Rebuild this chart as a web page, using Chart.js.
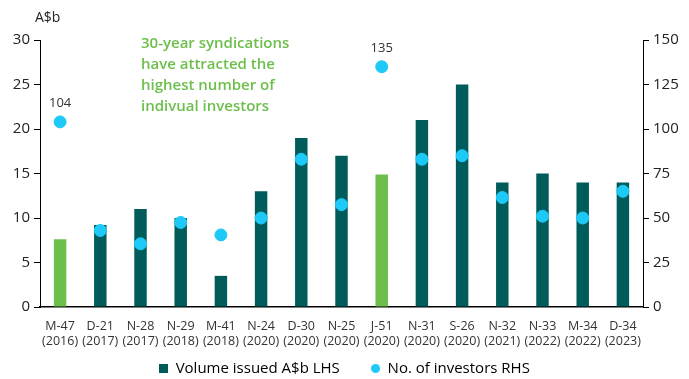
<!DOCTYPE html>
<html>
<head>
<meta charset="utf-8">
<script src="https://cdn.jsdelivr.net/npm/chart.js@4/dist/chart.umd.min.js"></script>
<style>
html,body{margin:0;padding:0;background:#fff;}
#wrap{width:689px;height:379px;position:relative;}
</style>
</head>
<body>
<div id="wrap"><canvas id="c" width="689" height="379"></canvas></div>
<script>
const bonds = ['M-47','D-21','N-28','N-29','M-41','N-24','D-30','N-25','J-51','N-31','S-26','N-32','N-33','M-34','D-34'];
const years = ['(2016)','(2017)','(2017)','(2018)','(2018)','(2020)','(2020)','(2020)','(2020)','(2020)','(2020)','(2021)','(2022)','(2022)','(2023)'];
const volume = [7.6, 9.2, 11, 10, 3.5, 13, 19, 17, 14.9, 21, 25, 14, 15, 14, 14];
const investors = [104, 43, 35.5, 47.5, 40.5, 50, 83, 57.5, 135, 83, 85, 61.5, 51, 50, 65];
const thirtyYear = ['M-47','J-51'];
const labelled = ['M-47','J-51'];
const leftTicks = [0,5,10,15,20,25,30];
const rightTicks = [0,25,50,75,100,125,150];
const annotation = ['30-year syndications','have attracted the','highest number of','indivual investors'];

const TEAL = '#005C5B', GREEN = '#6BBF4A', CYAN = '#1CC9F7';
const FONT = "'Open Sans', sans-serif";

const barColors = bonds.map(b => thirtyYear.includes(b) ? GREEN : TEAL);

function marker(shape, color, size) {
  const c = document.createElement('canvas');
  c.width = size; c.height = size;
  const g = c.getContext('2d');
  g.fillStyle = color;
  if (shape === 'circle') { g.beginPath(); g.arc(size / 2, size / 2, size / 2, 0, Math.PI * 2); g.fill(); }
  else g.fillRect(0, 0, size, size);
  return c;
}
const squareMark = marker('rect', TEAL, 9);
const circleMark = marker('circle', CYAN, 9);

const extras = {
  id: 'extras',
  afterLayout(chart) {
    if (chart.legend) { chart.legend.top += 7; chart.legend.bottom += 7; }
  },
  afterDatasetsDraw(chart) {
    const ctx = chart.ctx;
    const meta = chart.getDatasetMeta(0);
    ctx.save();
    ctx.fillStyle = '#333';
    ctx.font = "13px " + FONT;
    ctx.textAlign = 'center';
    ctx.textBaseline = 'alphabetic';
    bonds.forEach((b, i) => {
      if (labelled.includes(b)) {
        const p = meta.data[i];
        ctx.fillText(String(investors[i]), p.x, p.y - 15);
      }
    });
    ctx.fillStyle = '#222';
    ctx.font = "14px " + FONT;
    ctx.textAlign = 'left';
    ctx.textBaseline = 'middle';
    ctx.fillText('A$b', 35, 18);
    ctx.fillStyle = GREEN;
    ctx.font = "600 15px " + FONT;
    annotation.forEach((t, k) => ctx.fillText(t, 141, 44 + k * 21));
    ctx.restore();
  }
};

new Chart(document.getElementById('c'), {
  data: {
    labels: bonds.map((b, i) => [b, years[i]]),
    datasets: [
      {
        type: 'scatter',
        label: 'No. of investors RHS',
        data: investors,
        yAxisID: 'y1',
        backgroundColor: CYAN,
        borderColor: CYAN,
        pointRadius: 6,
        pointHoverRadius: 6,
        showLine: false,
        order: 0
      },
      {
        type: 'bar',
        label: 'Volume issued A$b LHS',
        data: volume,
        yAxisID: 'y',
        backgroundColor: barColors,
        categoryPercentage: 1,
        barPercentage: 0.31,
        order: 1
      }
    ]
  },
  options: {
    responsive: false,
    animation: false,
    events: [],
    layout: { padding: { top: 40, left: 0, right: 0, bottom: 0 } },
    plugins: {
      tooltip: { enabled: false },
      legend: {
        position: 'bottom',
        labels: {
          font: { family: FONT, size: 15 },
          color: '#222',
          boxWidth: 9,
          boxHeight: 9,
          padding: 4,
          usePointStyle: true,
          generateLabels(chart) {
            return [
              { text: 'Volume issued A$b LHS       ', fillStyle: TEAL, strokeStyle: TEAL, lineWidth: 0, pointStyle: squareMark, datasetIndex: 1 },
              { text: 'No. of investors RHS', fillStyle: CYAN, strokeStyle: CYAN, lineWidth: 0, pointStyle: circleMark, datasetIndex: 0 }
            ];
          }
        }
      }
    },
    scales: {
      x: {
        type: 'category',
        offset: true,
        grid: { display: false, drawTicks: false },
        border: { display: true, color: '#000', width: 1.5 },
        ticks: { font: { family: FONT, size: 12.5 }, color: '#333', maxRotation: 0, autoSkip: false, padding: 12 },
        afterFit(s) { s.height = 43; }
      },
      y: {
        position: 'left',
        min: 0, max: 30,
        afterBuildTicks(s) { s.ticks = leftTicks.map(v => ({ value: v })); },
        grid: { drawOnChartArea: false, drawTicks: true, tickLength: 6, color: '#000' },
        border: { display: true, color: '#000', width: 1 },
        ticks: { font: { family: FONT, size: 15 }, color: '#222', padding: 4 },
        afterFit(s) { s.width = 40; }
      },
      y1: {
        position: 'right',
        min: 0, max: 150,
        afterBuildTicks(s) { s.ticks = rightTicks.map(v => ({ value: v })); },
        grid: { drawOnChartArea: false, drawTicks: true, tickLength: 6, color: '#000' },
        border: { display: true, color: '#000', width: 1 },
        ticks: { font: { family: FONT, size: 15 }, color: '#222', padding: 4 },
        afterFit(s) { s.width = 46; }
      }
    }
  },
  plugins: [extras]
});
</script>
</body>
</html>
